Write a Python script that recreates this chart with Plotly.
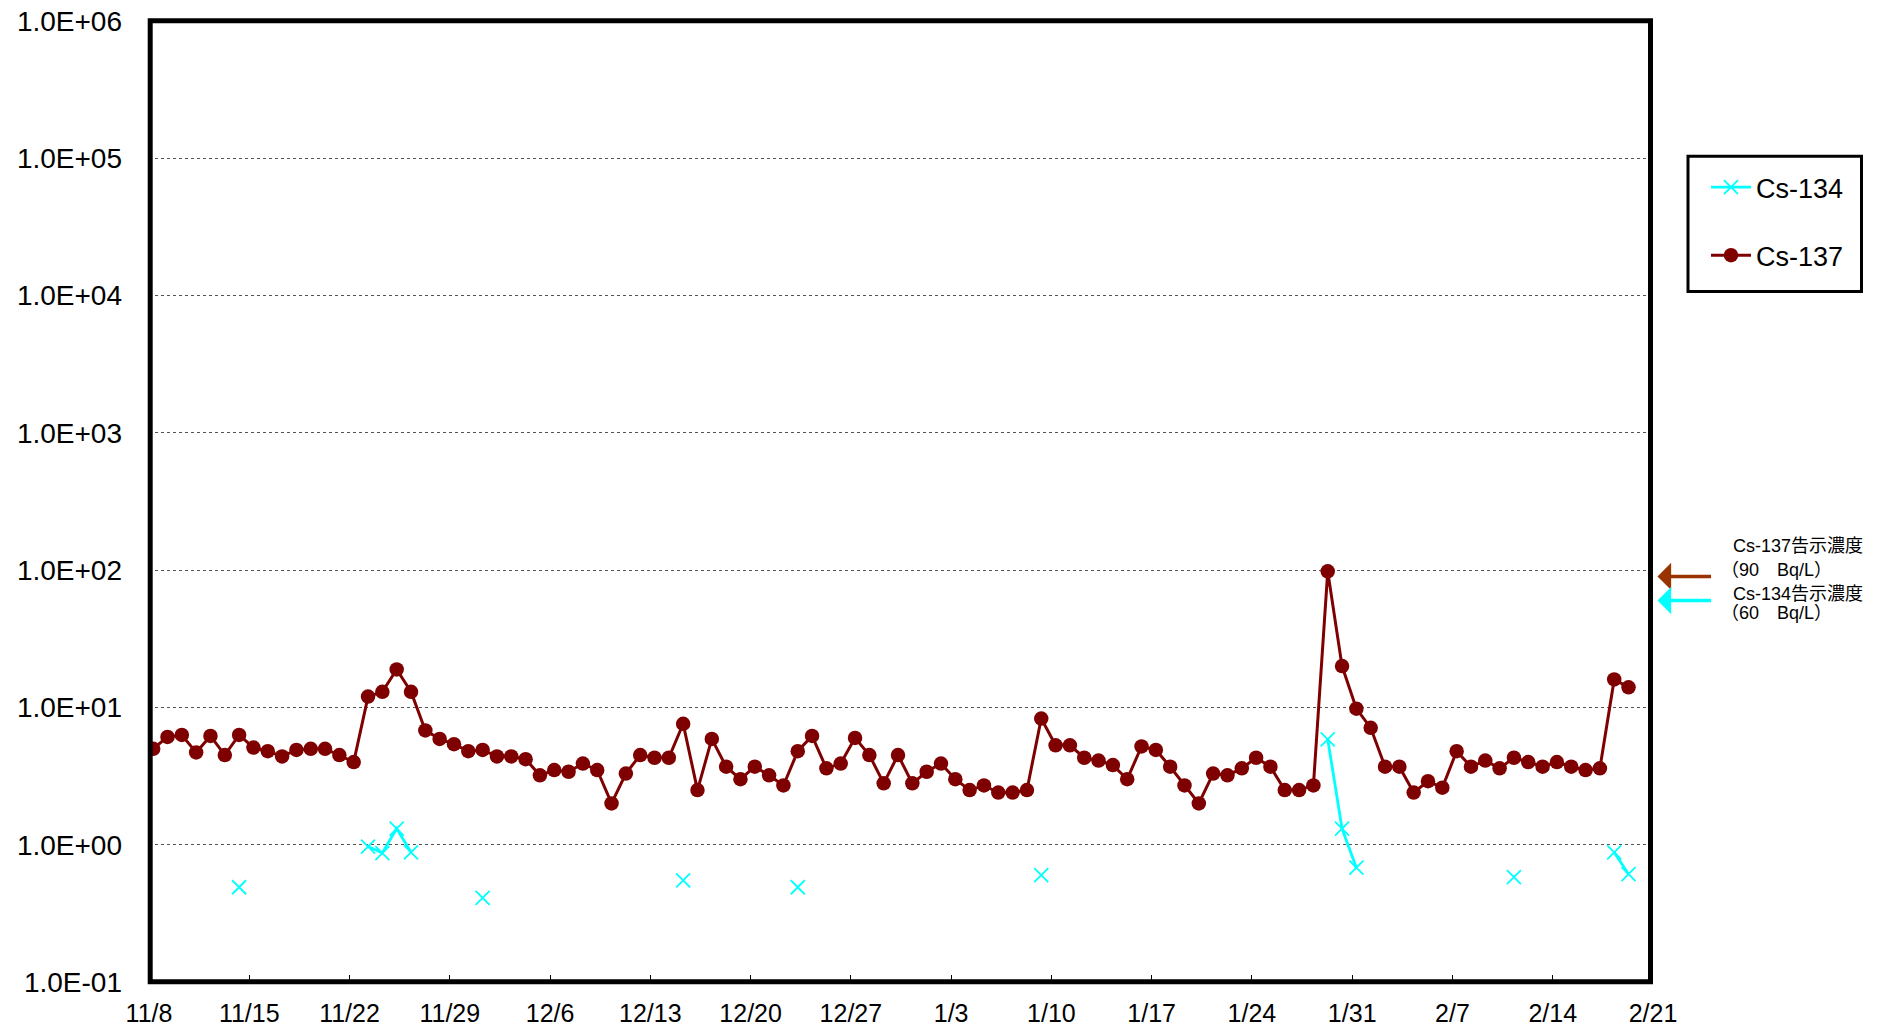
import math
import datetime as dt
import plotly.graph_objects as go

# ---------------- data ----------------
start_date = dt.date(2019, 11, 8)
sample_hour = 7  # sampling time of day
n_days = 104

cs137 = [
    5.0, 6.1, 6.3, 4.7, 6.2, 4.5, 6.3, 5.1, 4.8, 4.4,
    4.9, 5.0, 5.0, 4.5, 4.0, 12.0, 13.0, 18.9, 13.0, 6.8,
    5.9, 5.4, 4.8, 4.9, 4.4, 4.4, 4.2, 3.2, 3.5, 3.4,
    3.9, 3.5, 2.0, 3.3, 4.5, 4.3, 4.3, 7.6, 2.5, 5.9,
    3.7, 3.0, 3.7, 3.2, 2.7, 4.8, 6.2, 3.6, 3.9, 6.0,
    4.5, 2.8, 4.5, 2.8, 3.4, 3.9, 3.0, 2.5, 2.7, 2.4,
    2.4, 2.5, 8.3, 5.3, 5.3, 4.3, 4.1, 3.8, 3.0, 5.2,
    4.9, 3.7, 2.7, 2.0, 3.3, 3.2, 3.6, 4.3, 3.7, 2.5,
    2.5, 2.7, 98.0, 20.0, 9.8, 7.1, 3.7, 3.7, 2.4, 2.9,
    2.6, 4.8, 3.7, 4.1, 3.6, 4.3, 4.0, 3.7, 4.0, 3.7,
    3.5, 3.6, 16.0, 14.0,
]

# Cs-134: detected values only (None = not detected)
cs134_detected = {
    6: 0.49, 15: 0.97, 16: 0.87, 17: 1.31, 18: 0.88,
    23: 0.41, 37: 0.55, 45: 0.49, 62: 0.60,
    82: 5.85, 83: 1.31, 84: 0.68, 95: 0.58, 102: 0.88, 103: 0.61,
}
cs134 = [cs134_detected.get(i) for i in range(n_days)]

sample_times = [dt.datetime.combine(start_date + dt.timedelta(days=i), dt.time(sample_hour))
                for i in range(n_days)]

tick_dates = [start_date + dt.timedelta(days=7 * k) for k in range(16)]
tick_labels = [f"{d.month}/{d.day}" for d in tick_dates]

y_tickvals = [1e-1, 1e0, 1e1, 1e2, 1e3, 1e4, 1e5, 1e6]
y_ticktext = ["1.0E-01", "1.0E+00", "1.0E+01", "1.0E+02",
              "1.0E+03", "1.0E+04", "1.0E+05", "1.0E+06"]

limit137 = 90
limit134 = 60

# ---------------- figure ----------------
LAT = "Liberation Sans, Arial, sans-serif"
JP = "Liberation Sans, Noto Sans CJK JP, sans-serif"

W, H = 1881, 1032
ML, MR, MT, MB = 149, 228, 21, 50
PW, PH = W - ML - MR, H - MT - MB


def px_x(px):
    return (px - ML) / PW


def px_y(py):
    return 1 - (py - MT) / PH


fig = go.Figure()
fig.add_trace(go.Scatter(
    x=sample_times, y=cs134, name="Cs-134", mode="lines+markers",
    connectgaps=False, legendgroup="a",
    line=dict(color="#00FFFF", width=2.8),
    marker=dict(symbol="x-thin-open", size=14, color="#00FFFF",
                line=dict(color="#00FFFF", width=1.8)),
))
fig.add_trace(go.Scatter(
    x=sample_times, y=cs137, name="Cs-137", mode="lines+markers",
    legendgroup="b",
    line=dict(color="#7F0000", width=3),
    marker=dict(symbol="circle", size=14.5, color="#7F0000"),
))

fig.update_layout(
    width=W, height=H,
    margin=dict(l=ML, r=MR, t=MT, b=MB, autoexpand=False),
    paper_bgcolor="white", plot_bgcolor="white",
    font=dict(family=LAT, color="black"),
    legend=dict(
        x=px_x(1706), y=px_y(163), xanchor="left", yanchor="top",
        borderwidth=0, bgcolor="rgba(0,0,0,0)",
        font=dict(size=27, family=LAT),
        tracegroupgap=30, itemwidth=40,
    ),
)

fig.update_xaxes(
    type="date", automargin=False,
    range=[dt.datetime.combine(tick_dates[0], dt.time(0)),
           dt.datetime.combine(tick_dates[-1], dt.time(0))],
    tickvals=tick_dates, ticktext=tick_labels,
    ticks="inside", ticklen=7, tickwidth=1, tickcolor="black",
    tickfont=dict(size=25, family=LAT),
    ticklabelstandoff=14,
    showgrid=False, zeroline=False, showline=False,
)
fig.update_yaxes(
    type="log", range=[-1, 6], automargin=False,
    tickvals=y_tickvals, ticktext=y_ticktext,
    ticks="", tickfont=dict(size=28, family=LAT),
    ticklabelstandoff=26,
    showgrid=True, gridcolor="#555555", gridwidth=1, griddash="dot",
    zeroline=False, showline=False,
)

# plot frame
fig.add_shape(type="rect", xref="paper", yref="paper",
              x0=px_x(150.2), x1=px_x(1650.5), y0=px_y(981.7), y1=px_y(20.8),
              line=dict(color="black", width=5), fillcolor="rgba(0,0,0,0)", layer="above")
# legend frame
fig.add_shape(type="rect", xref="paper", yref="paper",
              x0=px_x(1688), x1=px_x(1861.5), y0=px_y(291.5), y1=px_y(156.3),
              line=dict(color="black", width=3), fillcolor="rgba(0,0,0,0)", layer="above")

# regulatory limit arrows
for val, col in [(limit137, "#993300"), (limit134, "#00FFFF")]:
    fig.add_annotation(
        xref="paper", yref="y", x=px_x(1657.5), y=math.log10(val),
        ax=55, ay=0, axref="pixel", ayref="pixel",
        text="", showarrow=True, arrowhead=1, arrowsize=1.3,
        arrowwidth=3.5, arrowcolor=col,
    )

labels = [
    ("Cs-137告示濃度", 1730.7, 546),
    (f"（{limit137}　Bq/L）", 1719, 570),
    ("Cs-134告示濃度", 1730.7, 594),
    (f"（{limit134}　Bq/L）", 1719, 613),
]
for txt, xx, yy in labels:
    fig.add_annotation(
        xref="paper", yref="paper", x=px_x(xx), y=px_y(yy),
        xanchor="left", yanchor="middle", showarrow=False,
        text=txt, font=dict(size=18, family=JP, color="black"),
    )

fig.write_html("out.html", config={"displayModeBar": False},
               post_script="document.body.style.margin='0';")
